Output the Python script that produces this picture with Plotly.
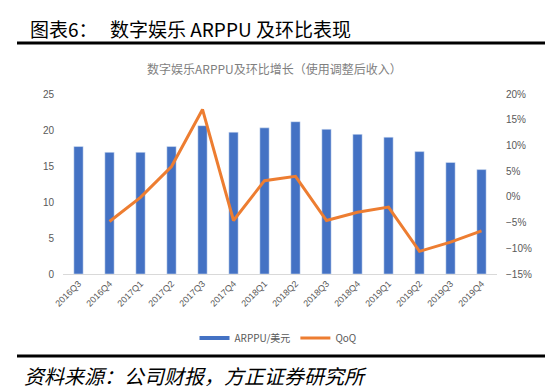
import plotly.graph_objects as go

categories = ["2016Q3", "2016Q4", "2017Q1", "2017Q2", "2017Q3", "2017Q4", "2018Q1",
              "2018Q2", "2018Q3", "2018Q4", "2019Q1", "2019Q2", "2019Q3", "2019Q4"]
arppu = [17.7, 16.9, 16.9, 17.7, 20.6, 19.7, 20.3, 21.15, 20.1, 19.4, 19.0, 17.0, 15.5, 14.5]
qoq = [None, -4.8, -0.1, 5.9, 17.0, -4.6, 3.15, 4.0, -4.6, -3.0, -2.0, -10.6, -8.8, -6.6]
qoq_frac = [None if v is None else v / 100 for v in qoq]

BLUE = "#4472C4"
ORANGE = "#ED7D31"
GREY = "#595959"
CJK = "Noto Sans CJK SC"

W, H = 553, 389
L, R, T, B = 55, 489, 86, 266
pw, ph = R - L, B - T

def px(x):
    return (x - L) / pw

def py(y):
    return (B - y) / ph

fig = go.Figure()
fig.add_trace(go.Bar(x=categories, y=arppu, name="ARPPU/美元", marker_color=BLUE,
                     width=0.3, showlegend=False))
# legend entry for bars drawn as a line swatch
fig.add_trace(go.Scatter(x=[None], y=[None], name="ARPPU/美元", mode="lines",
                         line=dict(color=BLUE, width=4)))
fig.add_trace(go.Scatter(x=categories, y=qoq_frac, name="QoQ", mode="lines",
                         line=dict(color=ORANGE, width=3), yaxis="y2"))

fig.update_layout(
    width=W, height=H,
    margin=dict(l=L, r=W - R, t=T, b=H - B),
    paper_bgcolor="white", plot_bgcolor="white",
    showlegend=True,
    legend=dict(orientation="h", x=px(270), xanchor="center", y=py(330), yanchor="middle",
                font=dict(family=CJK, size=10, color=GREY), itemwidth=30,
                traceorder="normal"),
    font=dict(family="Liberation Sans", size=10, color=GREY),
    xaxis=dict(tickangle=-45, showline=True, linecolor="#D9D9D9", linewidth=1,
               showgrid=False, ticks="", tickfont=dict(size=9, color=GREY)),
    yaxis=dict(range=[0, 25], dtick=5, showgrid=False, zeroline=False,
               tickfont=dict(size=10, color=GREY), ticklabelstandoff=8),
    yaxis2=dict(range=[-0.15, 0.20], dtick=0.05, tickformat=".0%", overlaying="y",
                side="right", showgrid=False, zeroline=False,
                tickfont=dict(size=10, color=GREY), ticklabelstandoff=8),
    bargap=0.7,
)

fig.add_annotation(text="图表6：", x=px(20), y=py(21), xref="paper", yref="paper",
                   xanchor="left", yanchor="middle", showarrow=False,
                   font=dict(family=CJK, size=19, color="black"))
fig.add_annotation(text="数字娱乐 ARPPU 及环比表现", x=px(100), y=py(21), xref="paper", yref="paper",
                   xanchor="left", yanchor="middle", showarrow=False,
                   font=dict(family=CJK, size=19, color="black"))
fig.add_annotation(text="数字娱乐ARPPU及环比增长（使用调整后收入）", x=px(266), y=py(60),
                   xref="paper", yref="paper", xanchor="center", yanchor="middle",
                   showarrow=False, font=dict(family=CJK, size=12, color="#7F7F7F"))
fig.add_annotation(text="<i>资料来源：公司财报，方正证券研究所</i>", x=px(14), y=py(367),
                   xref="paper", yref="paper", xanchor="left", yanchor="middle",
                   showarrow=False, font=dict(family=CJK, size=20, color="black"))

for yy in (35, 348):
    fig.add_shape(type="line", xref="paper", yref="paper", x0=px(9), x1=px(553),
                  y0=py(yy), y1=py(yy), line=dict(color="black", width=3))

fig.write_html("out.html")
